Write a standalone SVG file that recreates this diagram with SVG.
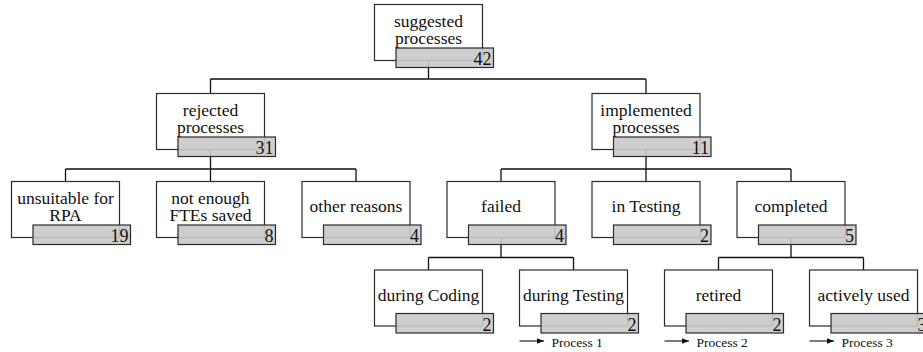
<svg xmlns="http://www.w3.org/2000/svg" width="923" height="352" viewBox="0 0 923 352">
  <defs>
    <style>
      .box { fill: #ffffff; stroke: #2b2b2b; stroke-width: 1.2; }
      .bar { fill: #c9c9c9; fill-opacity: 0.9; stroke: #2b2b2b; stroke-width: 1.2; }
      .lbl { font-family: "Liberation Serif", "Times New Roman", serif; font-size: 17.5px; fill: #111111; text-anchor: middle; }
      .num { font-family: "Liberation Serif", "Times New Roman", serif; font-size: 18px; fill: #111111; text-anchor: end; }
      .proc { font-family: "Liberation Serif", "Times New Roman", serif; font-size: 13.5px; fill: #111111; }
      .link { fill: none; stroke: #111111; stroke-width: 1.3; }
      .note { fill: none; stroke: #111111; stroke-width: 1.1; }
    </style>
    <marker id="arrowhead" viewBox="0 0 10 10" refX="10" refY="5" markerWidth="7" markerHeight="7" markerUnits="userSpaceOnUse" orient="auto">
      <path d="M0,1 L10,5 L0,9 Z" fill="#111111"/>
    </marker>
    <!-- node frame: white card with a grey count bar overlapping its lower edge -->
    <g id="card">
      <rect class="box" x="0" y="0" width="108" height="56"/>
    </g>
  </defs>

  <!-- tree connectors (drawn first so the count bars sit on top) -->
  <g id="connectors">
    <path class="link" d="M428.5,60.5 V79 M210.5,79 H646 M210.5,79 V93.5 M646,79 V93.5"/>
    <path class="link" d="M210.5,149.5 V169 M65.5,169 H356 M65.5,169 V181.5 M210.5,169 V181.5 M356,169 V181.5"/>
    <path class="link" d="M646,149.5 V169 M501,169 H791 M501,169 V181.5 M646,169 V181.5 M791,169 V181.5"/>
    <path class="link" d="M501,237.5 V257.5 M428.5,257.5 H573.5 M428.5,257.5 V270 M573.5,257.5 V270"/>
    <path class="link" d="M791,237.5 V257.5 M718.5,257.5 H863.5 M718.5,257.5 V270 M863.5,257.5 V270"/>
  </g>

  <g id="n-suggested" transform="translate(374.5,4.5)">
    <use href="#card"/>
    <text class="lbl" x="54" y="22.5">suggested</text>
    <text class="lbl" x="54" y="39.5">processes</text>
    <rect class="bar" x="21.5" y="43.5" width="97.5" height="19.5"/>
    <text class="num" x="117" y="60.5">42</text>
  </g>

  <g id="n-rejected" transform="translate(156.5,93.5)">
    <use href="#card"/>
    <text class="lbl" x="54" y="22">rejected</text>
    <text class="lbl" x="54" y="39">processes</text>
    <rect class="bar" x="21.5" y="43.5" width="97.5" height="19.5"/>
    <text class="num" x="117" y="60.5">31</text>
  </g>

  <g id="n-implemented" transform="translate(592,93.5)">
    <use href="#card"/>
    <text class="lbl" x="54" y="22">implemented</text>
    <text class="lbl" x="54" y="39">processes</text>
    <rect class="bar" x="21.5" y="43.5" width="97.5" height="19.5"/>
    <text class="num" x="117" y="60.5">11</text>
  </g>

  <g id="n-unsuitable" transform="translate(11.5,181.5)">
    <use href="#card"/>
    <text class="lbl" x="54" y="22">unsuitable for</text>
    <text class="lbl" x="54" y="39">RPA</text>
    <rect class="bar" x="21.5" y="43.5" width="97.5" height="19.5"/>
    <text class="num" x="117" y="60.5">19</text>
  </g>

  <g id="n-fte" transform="translate(156.5,181.5)">
    <use href="#card"/>
    <text class="lbl" x="54" y="22">not enough</text>
    <text class="lbl" x="54" y="39">FTEs saved</text>
    <rect class="bar" x="21.5" y="43.5" width="97.5" height="19.5"/>
    <text class="num" x="117" y="60.5">8</text>
  </g>

  <g id="n-other" transform="translate(302,181.5)">
    <use href="#card"/>
    <text class="lbl" x="54" y="30.5">other reasons</text>
    <rect class="bar" x="21.5" y="43.5" width="97.5" height="19.5"/>
    <text class="num" x="117" y="60.5">4</text>
  </g>

  <g id="n-failed" transform="translate(447,181.5)">
    <use href="#card"/>
    <text class="lbl" x="54" y="30.5">failed</text>
    <rect class="bar" x="21.5" y="43.5" width="97.5" height="19.5"/>
    <text class="num" x="117" y="60.5">4</text>
  </g>

  <g id="n-intesting" transform="translate(592,181.5)">
    <use href="#card"/>
    <text class="lbl" x="54" y="30.5">in Testing</text>
    <rect class="bar" x="21.5" y="43.5" width="97.5" height="19.5"/>
    <text class="num" x="117" y="60.5">2</text>
  </g>

  <g id="n-completed" transform="translate(737,181.5)">
    <use href="#card"/>
    <text class="lbl" x="54" y="30.5">completed</text>
    <rect class="bar" x="21.5" y="43.5" width="97.5" height="19.5"/>
    <text class="num" x="117" y="60.5">5</text>
  </g>

  <g id="n-coding" transform="translate(374.5,270)">
    <use href="#card"/>
    <text class="lbl" x="54" y="30.5">during Coding</text>
    <rect class="bar" x="21.5" y="43.5" width="97.5" height="19.5"/>
    <text class="num" x="117" y="60.5">2</text>
  </g>

  <g id="n-testing" transform="translate(519.5,270)">
    <use href="#card"/>
    <text class="lbl" x="54" y="30.5">during Testing</text>
    <rect class="bar" x="21.5" y="43.5" width="97.5" height="19.5"/>
    <text class="num" x="117" y="60.5">2</text>
    <line class="note" x1="0" y1="71" x2="24.5" y2="71" marker-end="url(#arrowhead)"/>
    <text class="proc" x="32" y="76.5">Process 1</text>
  </g>

  <g id="n-retired" transform="translate(664.5,270)">
    <use href="#card"/>
    <text class="lbl" x="54" y="30.5">retired</text>
    <rect class="bar" x="21.5" y="43.5" width="97.5" height="19.5"/>
    <text class="num" x="117" y="60.5">2</text>
    <line class="note" x1="0" y1="71" x2="24.5" y2="71" marker-end="url(#arrowhead)"/>
    <text class="proc" x="32" y="76.5">Process 2</text>
  </g>

  <g id="n-active" transform="translate(809.5,270)">
    <use href="#card"/>
    <text class="lbl" x="54" y="30.5">actively used</text>
    <rect class="bar" x="21.5" y="43.5" width="97.5" height="19.5"/>
    <text class="num" x="117" y="60.5">3</text>
    <line class="note" x1="0" y1="71" x2="24.5" y2="71" marker-end="url(#arrowhead)"/>
    <text class="proc" x="32" y="76.5">Process 3</text>
  </g>
</svg>
